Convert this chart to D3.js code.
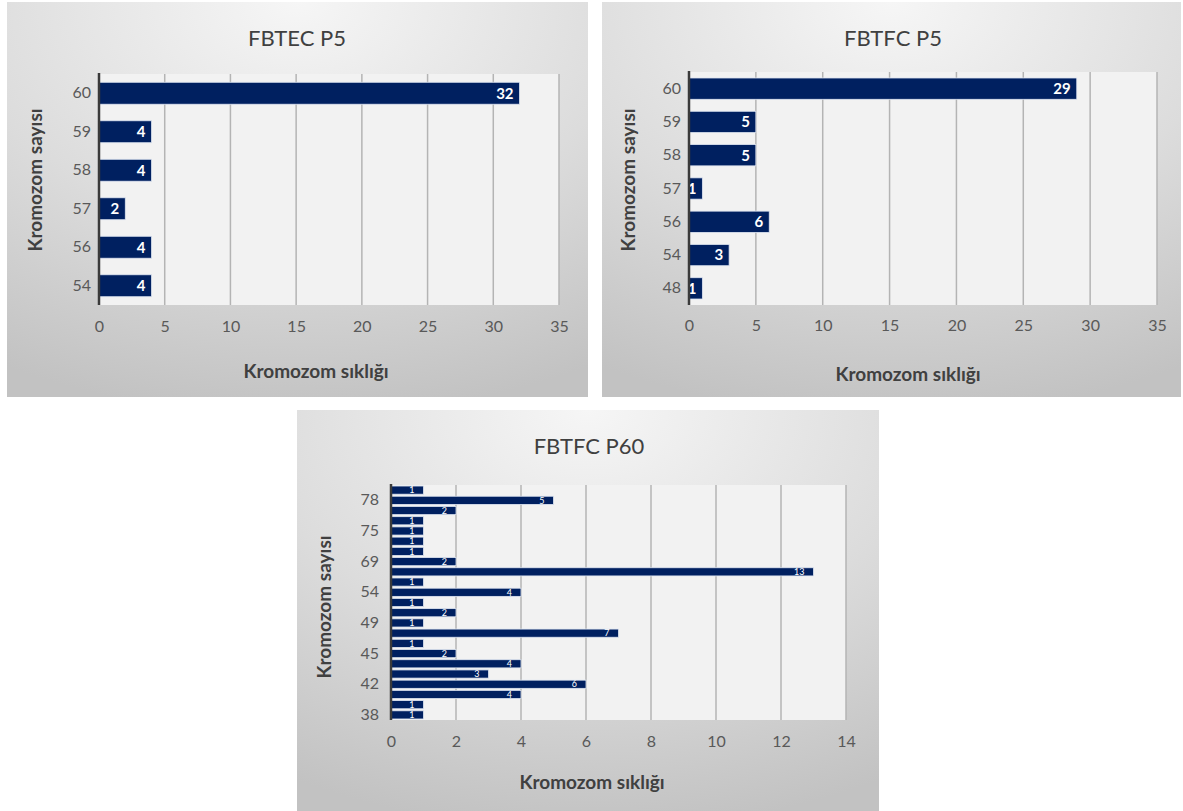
<!DOCTYPE html>
<html>
<head>
<meta charset="utf-8">
<script src="https://cdn.jsdelivr.net/npm/d3@7"></script>
<style>
  html, body { margin: 0; padding: 0; background: #ffffff; }
  svg { display: block; }
  text { font-family: Lato, "Noto Sans", sans-serif; }
</style>
</head>
<body>
<svg id="chart" width="1183" height="811"></svg>
<script>
// Chromosome counts (category) and their frequencies, listed top to bottom
const fbtecP5Counts = ["60", "59", "58", "57", "56", "54"];
const fbtecP5Freq   = [32, 4, 4, 2, 4, 4];

const fbtfcP5Counts = ["60", "59", "58", "57", "56", "54", "48"];
const fbtfcP5Freq   = [29, 5, 5, 1, 6, 3, 1];

const fbtfcP60Counts = ["80", "78", "77", "76", "75", "74", "72", "69", "60", "56", "54",
                        "52", "50", "49", "47", "46", "45", "44", "43", "42", "41", "40", "38"];
const fbtfcP60Freq   = [1, 5, 2, 1, 1, 1, 1, 2, 13, 1, 4,
                        1, 2, 1, 7, 1, 2, 4, 3, 6, 4, 1, 1];

const ticksP5  = [0, 5, 10, 15, 20, 25, 30, 35];
const ticksP60 = [0, 2, 4, 6, 8, 10, 12, 14];

// every third category name is printed on the P60 axis, starting from the bottom
const p60ShownLabels = ["38", "42", "45", "49", "54", "69", "75", "78"];

const titles = ["FBTEC P5", "FBTFC P5", "FBTFC P60"];
const xTitle = "Kromozom sıklığı";
const yTitle = "Kromozom sayısı";

const svg = d3.select("#chart");
const defs = svg.append("defs");
const grad = defs.append("radialGradient")
  .attr("id", "panelBg")
  .attr("cx", "50%").attr("cy", "0%").attr("r", "105%")
  .attr("fx", "50%").attr("fy", "0%");
grad.append("stop").attr("offset", "0%").attr("stop-color", "#f6f6f6");
grad.append("stop").attr("offset", "55%").attr("stop-color", "#dcdcdc");
grad.append("stop").attr("offset", "100%").attr("stop-color", "#c2c2c2");

function drawPanel(cfg) {
  const g = svg.append("g");
  g.append("rect")
    .attr("x", cfg.box[0]).attr("y", cfg.box[1])
    .attr("width", cfg.box[2]).attr("height", cfg.box[3])
    .attr("fill", "url(#panelBg)");

  const x = d3.scaleLinear().domain([cfg.ticks[0], cfg.ticks[cfg.ticks.length - 1]])
    .range([cfg.plot.left, cfg.plot.right]);
  const y = d3.scaleBand().domain(cfg.cats)
    .range([cfg.plot.top, cfg.plot.bottom]).paddingInner(cfg.pad).paddingOuter(cfg.pad / 2);

  // plot area
  g.append("rect")
    .attr("x", cfg.plot.left).attr("y", cfg.plot.top)
    .attr("width", cfg.plot.right - cfg.plot.left)
    .attr("height", cfg.plot.bottom - cfg.plot.top)
    .attr("fill", "#f2f2f2");

  // vertical grid lines
  g.append("g").selectAll("line").data(cfg.ticks.slice(1)).join("line")
    .attr("x1", d => x(d)).attr("x2", d => x(d))
    .attr("y1", cfg.plot.top).attr("y2", cfg.plot.bottom)
    .attr("stroke", "#b4b4b4").attr("stroke-width", 1.5);

  // bars
  g.append("g").selectAll("rect").data(cfg.cats).join("rect")
    .attr("x", x(0))
    .attr("y", d => y(d))
    .attr("width", (d, i) => x(cfg.vals[i]) - x(0))
    .attr("height", y.bandwidth())
    .attr("fill", "#002060")
    .attr("stroke", "#dfe6f2").attr("stroke-width", 0.8);

  // value labels, inside the bar end
  g.append("g").selectAll("text").data(cfg.cats).join("text")
    .attr("x", (d, i) => x(cfg.vals[i]) - cfg.labelInset)
    .attr("y", d => y(d) + y.bandwidth() / 2)
    .attr("dy", "0.36em")
    .attr("text-anchor", "end")
    .attr("fill", "#ffffff")
    .attr("font-size", cfg.labelSize)
    .attr("font-weight", cfg.labelWeight)
    .text((d, i) => cfg.vals[i]);

  // x axis (tick labels only)
  const xAxis = d3.axisBottom(x).tickValues(cfg.ticks).tickSize(0).tickPadding(0);
  const xg = g.append("g").attr("transform", `translate(0,${cfg.xTickY})`).call(xAxis);
  xg.select(".domain").remove();
  xg.selectAll("text").attr("fill", "#595959").attr("font-size", 16)
    .attr("font-family", "Lato, 'Noto Sans', sans-serif");

  // y axis: line plus category labels
  const yAxis = d3.axisLeft(y).tickSize(0).tickPadding(cfg.yTickPad)
    .tickValues(cfg.shown || cfg.cats);
  const yg = g.append("g").attr("transform", `translate(${cfg.plot.left},0)`).call(yAxis);
  yg.select(".domain").attr("stroke", "#3a3a3a").attr("stroke-width", 2.5)
    .attr("d", `M0,${cfg.plot.top - 1}V${cfg.plot.bottom}`);
  yg.selectAll("text").attr("fill", "#595959").attr("font-size", 16)
    .attr("font-family", "Lato, 'Noto Sans', sans-serif");

  // titles
  g.append("text").attr("x", cfg.titlePos[0]).attr("y", cfg.titlePos[1])
    .attr("text-anchor", "middle").attr("fill", "#404040").attr("font-size", 22)
    .text(cfg.title);
  g.append("text").attr("x", cfg.xTitlePos[0]).attr("y", cfg.xTitlePos[1])
    .attr("text-anchor", "middle").attr("fill", "#404040").attr("font-size", 19)
    .attr("font-weight", "bold").text(xTitle);
  g.append("text")
    .attr("transform", `translate(${cfg.yTitlePos[0]},${cfg.yTitlePos[1]}) rotate(-90)`)
    .attr("text-anchor", "middle").attr("fill", "#404040").attr("font-size", 19)
    .attr("font-weight", "bold").text(yTitle);
}

drawPanel({
  box: [7, 2, 581, 395],
  plot: { left: 99, right: 559, top: 74, bottom: 305 },
  cats: fbtecP5Counts, vals: fbtecP5Freq, ticks: ticksP5, pad: 0.43,
  labelInset: 6, labelSize: 15, labelWeight: "bold",
  xTickY: 321, yTickPad: 8,
  title: titles[0], titlePos: [297, 46], xTitlePos: [316, 378], yTitlePos: [42, 180]
});

drawPanel({
  box: [602, 2, 579, 395],
  plot: { left: 689, right: 1157, top: 72, bottom: 305 },
  cats: fbtfcP5Counts, vals: fbtfcP5Freq, ticks: ticksP5, pad: 0.36,
  labelInset: 6, labelSize: 15, labelWeight: "bold",
  xTickY: 320, yTickPad: 8,
  title: titles[1], titlePos: [893, 46], xTitlePos: [908, 381], yTitlePos: [635, 180]
});

drawPanel({
  box: [297, 410, 582, 401],
  plot: { left: 391, right: 846, top: 485, bottom: 720 },
  cats: fbtfcP60Counts, vals: fbtfcP60Freq, ticks: ticksP60, pad: 0.2,
  shown: p60ShownLabels,
  labelInset: 9, labelSize: 9, labelWeight: "normal",
  xTickY: 736, yTickPad: 12,
  title: titles[2], titlePos: [589, 454], xTitlePos: [592, 789], yTitlePos: [331, 607]
});
</script>
</body>
</html>
